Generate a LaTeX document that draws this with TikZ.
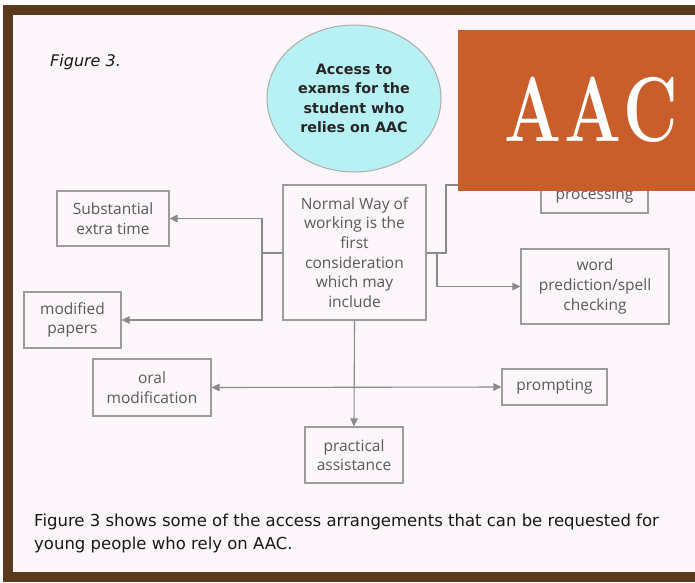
\documentclass[tikz,border=0pt]{standalone}
\usepackage{fontspec}
\newfontfamily\boxfont{Open Sans}
\newfontfamily\notefont{DejaVu Sans}
\usetikzlibrary{shapes.geometric,arrows.meta}

\definecolor{framebrown}{HTML}{5A3A1C}
\definecolor{pagepink}{HTML}{FCF5FA}
\definecolor{bubblecyan}{HTML}{B8F1F3}
\definecolor{aacorange}{HTML}{C95E2A}
\definecolor{linegrey}{HTML}{8A8A8A}
\definecolor{textgrey}{HTML}{5A5A5A}

\tikzset{
  option/.style={rectangle,draw=linegrey!85,line width=1.1pt,fill=pagepink,
    text=textgrey,align=center,inner sep=0pt,
    font=\boxfont\fontsize{15.5}{19.6}\selectfont},
  link/.style={draw=linegrey,line width=1.1pt},
  tip/.style={-{Triangle[length=8pt,width=7.5pt]}}
}

\begin{document}
\begin{tikzpicture}[x=1pt,y=-1pt]
    \useasboundingbox (0,0) rectangle (695,582);

    % page and frame
    \fill[white] (0,0) rectangle (695,582);
    \fill[framebrown] (3,5) rectangle (695,582);
    \fill[pagepink] (13,15) rectangle (695,572);

    % title
    \node[anchor=base west,inner sep=0pt,text=black!90,font=\notefont\itshape\fontsize{16}{19}\selectfont] (title) at (50,66) {Figure 3.};

    % goal bubble
    \node[ellipse,draw=linegrey!70,line width=1pt,fill=bubblecyan,minimum width=174pt,minimum height=147pt,
      align=center,text=black!85,font=\notefont\bfseries\fontsize{14.3}{19.5}\selectfont] (goal) at (354,98.5)
      {Access to\\exams for the\\student who\\relies on AAC};

    % central box
    \node[option,minimum width=143pt,minimum height=135pt] (main) at (354.5,252.5)
      {Normal Way of\\working is the\\first\\consideration\\which may\\include};

    % arrangements
    \node[option,minimum width=112pt,minimum height=55pt] (extra) at (113,218.5) {Substantial\\extra time};
    \node[option,minimum width=97pt,minimum height=56pt] (papers) at (72.5,320) {modified\\papers};
    \node[option,minimum width=118pt,minimum height=57pt] (oral) at (152,387.5) {oral\\modification};
    \node[option,minimum width=105pt,minimum height=36pt] (prompting) at (554.5,387) {prompting};
    \node[option,minimum width=98pt,minimum height=56pt] (practical) at (354,455) {practical\\assistance};
    \node[option,minimum width=148pt,minimum height=75pt] (wordpred) at (595,286.5) {word\\prediction/spell\\checking};
    \node[option,minimum width=107pt,minimum height=34pt] (proc) at (594.5,196) {processing};

    % left branches
    \coordinate (ljoin) at (262,253);
    \draw[link] (main.west |- ljoin) -- (ljoin);
    \draw[link,tip] (ljoin) |- (extra.east);
    \draw[link,tip] (ljoin) |- (papers.east);

    % right branches
    \coordinate (rjoin) at (446,253);
    \coordinate (rbranch) at (437,253);
    \draw[link,tip] (main.east |- rjoin) -- (rjoin) |- ([yshift=11pt]proc.west);
    \draw[link,tip] (rbranch) |- (wordpred.west);

    % down and across
    \draw[link,tip] (main.south) -- (practical.north);
    \draw[link,{Triangle[length=8pt,width=7.5pt]}-{Triangle[length=8pt,width=7.5pt]}] (oral.east) -- (prompting.west);

    % AAC badge
    \fill[aacorange] (458,30) rectangle (695,191);
    \node[text=white,inner sep=0pt] (aac) at (591.5,110)
      {\scalebox{0.73}[1]{\fontsize{92}{92}\selectfont\bfseries A\kern3pt A\kern3pt C}};

    % caption
    \node[anchor=base west,inner sep=0pt,align=left,text=black!90,font=\notefont\fontsize{16.5}{23}\selectfont] (caption) at (34,549)
      {Figure 3 shows some of the access arrangements that can be requested for\\young people who rely on AAC.};
\end{tikzpicture}
\end{document}
